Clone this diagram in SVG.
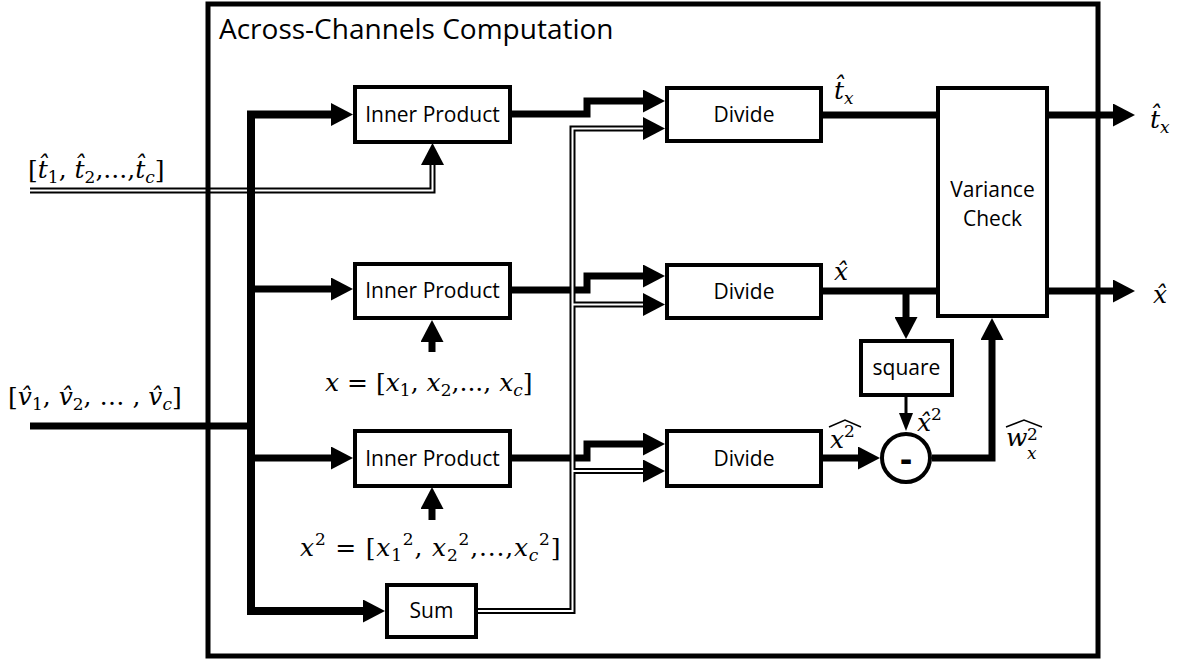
<svg xmlns="http://www.w3.org/2000/svg" width="1184" height="662" viewBox="0 0 1184 662">
<style>
.box{fill:#fff;stroke:#000;stroke-width:4}
.lbl{font-family:"Open Sans",sans-serif;font-size:21px;fill:#000;text-anchor:middle}
.th{fill:none;stroke:#000;stroke-width:7;stroke-linejoin:miter;stroke-linecap:butt}
.dbk{fill:none;stroke:#000;stroke-width:6;stroke-linejoin:miter}
.dwh{fill:none;stroke:#fff;stroke-width:2;stroke-linejoin:miter}
.m{font-family:"DejaVu Serif",serif;font-style:italic;font-size:25px;fill:#000}
.u{font-style:normal}
.s{font-size:17px}
.hat{fill:none;stroke:#000;stroke-width:1.5}
</style>
<defs>
<marker id="a" viewBox="0 0 22 23" refX="0" refY="11.5" markerWidth="22" markerHeight="23" markerUnits="userSpaceOnUse" orient="auto"><path d="M0,0 L22,11.5 L0,23 Z" fill="#000"/></marker>
<marker id="as" viewBox="0 0 18 14" refX="0" refY="7" markerWidth="18" markerHeight="14" markerUnits="userSpaceOnUse" orient="auto"><path d="M0,0 L18,7 L0,14 Z" fill="#000"/></marker>
</defs>

<g id="connectors">
<path class="dbk" d="M30,190.5 H432.5 V165" marker-end="url(#a)"/>
<path class="dwh" d="M30,190.5 H432.5 V165"/>
<rect x="208" y="4" width="890" height="652" fill="none" stroke="#000" stroke-width="5"/>
<path class="th" d="M30,426 H255"/>
<path class="th" style="stroke-width:8" d="M251,430 V114.5 H331" marker-end="url(#a)"/>
<path class="th" style="stroke-width:8" d="M251,420 V611 H363" marker-end="url(#a)"/>
<path class="th" d="M251,289 H331" marker-end="url(#a)"/>
<path class="th" d="M251,458 H331" marker-end="url(#a)"/>
<path class="th" d="M432,352 V342" marker-end="url(#a)"/>
<path class="th" d="M432,520 V509" marker-end="url(#a)"/>
<path class="th" d="M512,114 H587 V101 H643" marker-end="url(#a)"/>
<path class="th" d="M512,290 H587 V276 H643" marker-end="url(#a)"/>
<path class="th" d="M512,458 H587 V444 H643" marker-end="url(#a)"/>
<path class="dbk" d="M478,611 H572.5 V128.5 H643" marker-end="url(#a)"/>
<path class="dbk" d="M572.5,304.5 H643" marker-end="url(#a)"/>
<path class="dbk" d="M572.5,471 H643" marker-end="url(#a)"/>
<path class="dwh" d="M478,611 H572.5 V128.5 H643"/>
<path class="dwh" d="M572.5,304.5 H643"/>
<path class="dwh" d="M572.5,471 H643"/>
<path class="th" d="M823,115 H938"/>
<path class="th" d="M1049,115 H1113" marker-end="url(#a)"/>
<path class="th" d="M823,291 H938"/>
<path class="th" d="M906,291 V317" marker-end="url(#a)"/>
<path class="th" d="M1049,291 H1113" marker-end="url(#a)"/>
<path class="th" d="M823,458 H858" marker-end="url(#a)"/>
<path class="th" d="M932,458 H992 V340" marker-end="url(#a)"/>
<path fill="none" stroke="#000" stroke-width="3" d="M906,397 V413" marker-end="url(#as)"/>
</g>

<g id="title"><text x="219" y="39" style="font-family:'Open Sans',sans-serif;font-size:28px">Across-Channels Computation</text></g>

<g id="ip1"><rect class="box" x="355" y="87" width="155" height="55"/><text class="lbl" x="432.5" y="122">Inner Product</text></g>
<g id="ip2"><rect class="box" x="355" y="264" width="155" height="54"/><text class="lbl" x="432.5" y="298">Inner Product</text></g>
<g id="ip3"><rect class="box" x="355" y="431" width="155" height="55"/><text class="lbl" x="432.5" y="466">Inner Product</text></g>
<g id="sum"><rect class="box" x="387" y="585" width="89" height="52"/><text class="lbl" x="431.5" y="618">Sum</text></g>
<g id="div1"><rect class="box" x="667" y="88" width="154" height="53"/><text class="lbl" x="744" y="122">Divide</text></g>
<g id="div2"><rect class="box" x="667" y="265" width="154" height="53"/><text class="lbl" x="744" y="299">Divide</text></g>
<g id="div3"><rect class="box" x="667" y="431" width="154" height="55"/><text class="lbl" x="744" y="466">Divide</text></g>
<g id="vc"><rect class="box" x="938" y="88" width="109" height="228"/><text class="lbl" x="992.5" y="197">Variance</text><text class="lbl" x="992.5" y="226">Check</text></g>
<g id="square"><rect class="box" x="861" y="341" width="91" height="54"/><text class="lbl" x="906.5" y="375">square</text></g>
<g id="minus"><circle cx="906" cy="458" r="24" fill="#fff" stroke="#000" stroke-width="4"/><text x="906" y="471" style="font-family:'Open Sans',sans-serif;font-size:36px;font-weight:bold;text-anchor:middle">-</text></g>

<g id="labels">
<text class="m" x="28" y="178"><tspan class="u">[</tspan>t&#x302;<tspan class="s u" dy="5">1</tspan><tspan class="u" dy="-5">, </tspan>t&#x302;<tspan class="s u" dy="5">2</tspan><tspan class="u" dy="-5">,...,</tspan>t&#x302;<tspan class="s" dy="5">c</tspan><tspan class="u" dy="-5">]</tspan></text>
<text class="m" x="8" y="405"><tspan class="u">[</tspan>v&#x302;<tspan class="s u" dy="5">1</tspan><tspan class="u" dy="-5">, </tspan>v&#x302;<tspan class="s u" dy="5">2</tspan><tspan class="u" dy="-5">, … , </tspan>v&#x302;<tspan class="s" dy="5">c</tspan><tspan class="u" dy="-5">]</tspan></text>
<text class="m" x="325" y="391">x<tspan class="u"> = [</tspan>x<tspan class="s u" dy="5">1</tspan><tspan class="u" dy="-5">, </tspan>x<tspan class="s u" dy="5">2</tspan><tspan class="u" dy="-5">,..., </tspan>x<tspan class="s" dy="5">c</tspan><tspan class="u" dy="-5">]</tspan></text>
<text class="m" x="300" y="556" style="letter-spacing:0.8px">x<tspan class="s u" dy="-11">2</tspan><tspan class="u" dy="11"> = [</tspan>x<tspan class="s u" dy="5">1</tspan><tspan class="s u" dy="-16">2</tspan><tspan class="u" dy="11">, </tspan>x<tspan class="s u" dy="5">2</tspan><tspan class="s u" dy="-16">2</tspan><tspan class="u" dy="11">,...,</tspan>x<tspan class="s" dy="5">c</tspan><tspan class="s u" dy="-16">2</tspan><tspan class="u" dy="11">]</tspan></text>
<text class="m" x="834" y="99">t&#x302;<tspan class="s" dy="5">x</tspan></text>
<text class="m" x="834" y="280">x&#x302;</text>
<text class="m" x="830" y="448">x<tspan class="s u" dy="-11">2</tspan></text>
<path class="hat" d="M829,427 L845,420 L861,427"/>
<text class="m" x="917" y="431">x&#x302;<tspan class="s u" dy="-11">2</tspan></text>
<text class="m" x="1006" y="446">w<tspan class="s u" x="1027" y="440">2</tspan><tspan class="s" x="1027" y="459">x</tspan></text>
<path class="hat" d="M1006,427 L1024,420 L1042,427"/>
<text class="m" x="1150" y="128">t&#x302;<tspan class="s" dy="5">x</tspan></text>
<text class="m" x="1153" y="303">x&#x302;</text>
</g>
</svg>
